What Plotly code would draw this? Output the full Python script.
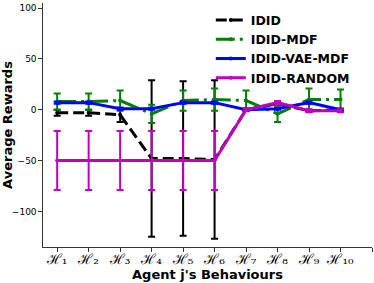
import plotly.graph_objects as go

x_pos = list(range(1, 11))
tick_vals = list(range(1, 12))
sub_digits = str.maketrans("0123456789", "₀₁₂₃₄₅₆₇₈₉")
tick_text = ["ℋ" + str(i).translate(sub_digits) for i in range(1, 11)] + [""]

idid = [-3, -3, -5, -48, -48, -49, 0, 6, -1, 0]
idid_err = [3, 3, 7, 77, 76, 78, 1, 1, 1, 1]
mdf = [8, 8, 9, -4, 9, 10, 9, -4, 10, 10]
mdf_err = [8, 8, 10, 9, 10, 11, 10, 8, 11, 10]
vae = [7, 7, 1, 1, 7, 7, 0, 1, 7, 0]
vae_err = [1, 1, 1, 1, 1, 1, 1, 1, 1, 1]
rnd = [-50, -50, -50, -50, -50, -50, 0, 7, -1, -1]
rnd_err = [29, 29, 29, 29, 29, 29, 1.5, 1.5, 1.5, 1.5]

series = [
    ("IDID", idid, idid_err, "#000000", "11px,5px"),
    ("IDID-MDF", mdf, mdf_err, "#008000", "19px,5px,3px,5px"),
    ("IDID-VAE-MDF", vae, vae_err, "#0000ff", "solid"),
    ("IDID-RANDOM", rnd, rnd_err, "#bf00bf", "solid"),
]

fig = go.Figure()
for name, ys, errs, col, dash in series:
    fig.add_trace(go.Scatter(
        x=x_pos, y=ys, name=name, mode="lines+markers",
        line=dict(color=col, width=3, dash=dash),
        marker=dict(color=col, size=4),
        error_y=dict(type="data", array=errs, visible=True, color=col,
                     thickness=2, width=3.5),
    ))

fig.update_layout(
    width=374, height=283,
    margin=dict(l=43, r=2, t=3, b=36),
    paper_bgcolor="white", plot_bgcolor="white",
    font=dict(family="DejaVu Sans", color="black"),
    showlegend=True,
    legend=dict(x=0.51, y=0.99, xanchor="left", yanchor="top",
                bgcolor="rgba(0,0,0,0)", tracegroupgap=0,
                font=dict(size=12.5, family="DejaVu Sans", weight="bold")),
)
fig.update_xaxes(
    range=[0.55, 11], tickvals=tick_vals, ticktext=tick_text,
    showline=True, linecolor="#333333", linewidth=1.2,
    ticks="outside", ticklen=3.5, tickcolor="#333333",
    showgrid=False, zeroline=False, automargin=False,
    tickfont=dict(size=14, family="DejaVu Serif"),
    ticklabelstandoff=-4,
    title=dict(text="<b>Agent j's Behaviours</b>", font=dict(size=13), standoff=2),
)
fig.update_yaxes(
    range=[-135, 105], tickvals=[-100, -50, 0, 50, 100],
    showline=True, linecolor="#333333", linewidth=1.2,
    ticks="outside", ticklen=3.5, tickcolor="#333333",
    showgrid=False, zeroline=False, automargin=False,
    tickfont=dict(size=9),
    title=dict(text="<b>Average Rewards</b>", font=dict(size=13), standoff=6),
)

fig.write_html("out.html", config={"displayModeBar": False},
               post_script="document.body.style.margin='0px';")
